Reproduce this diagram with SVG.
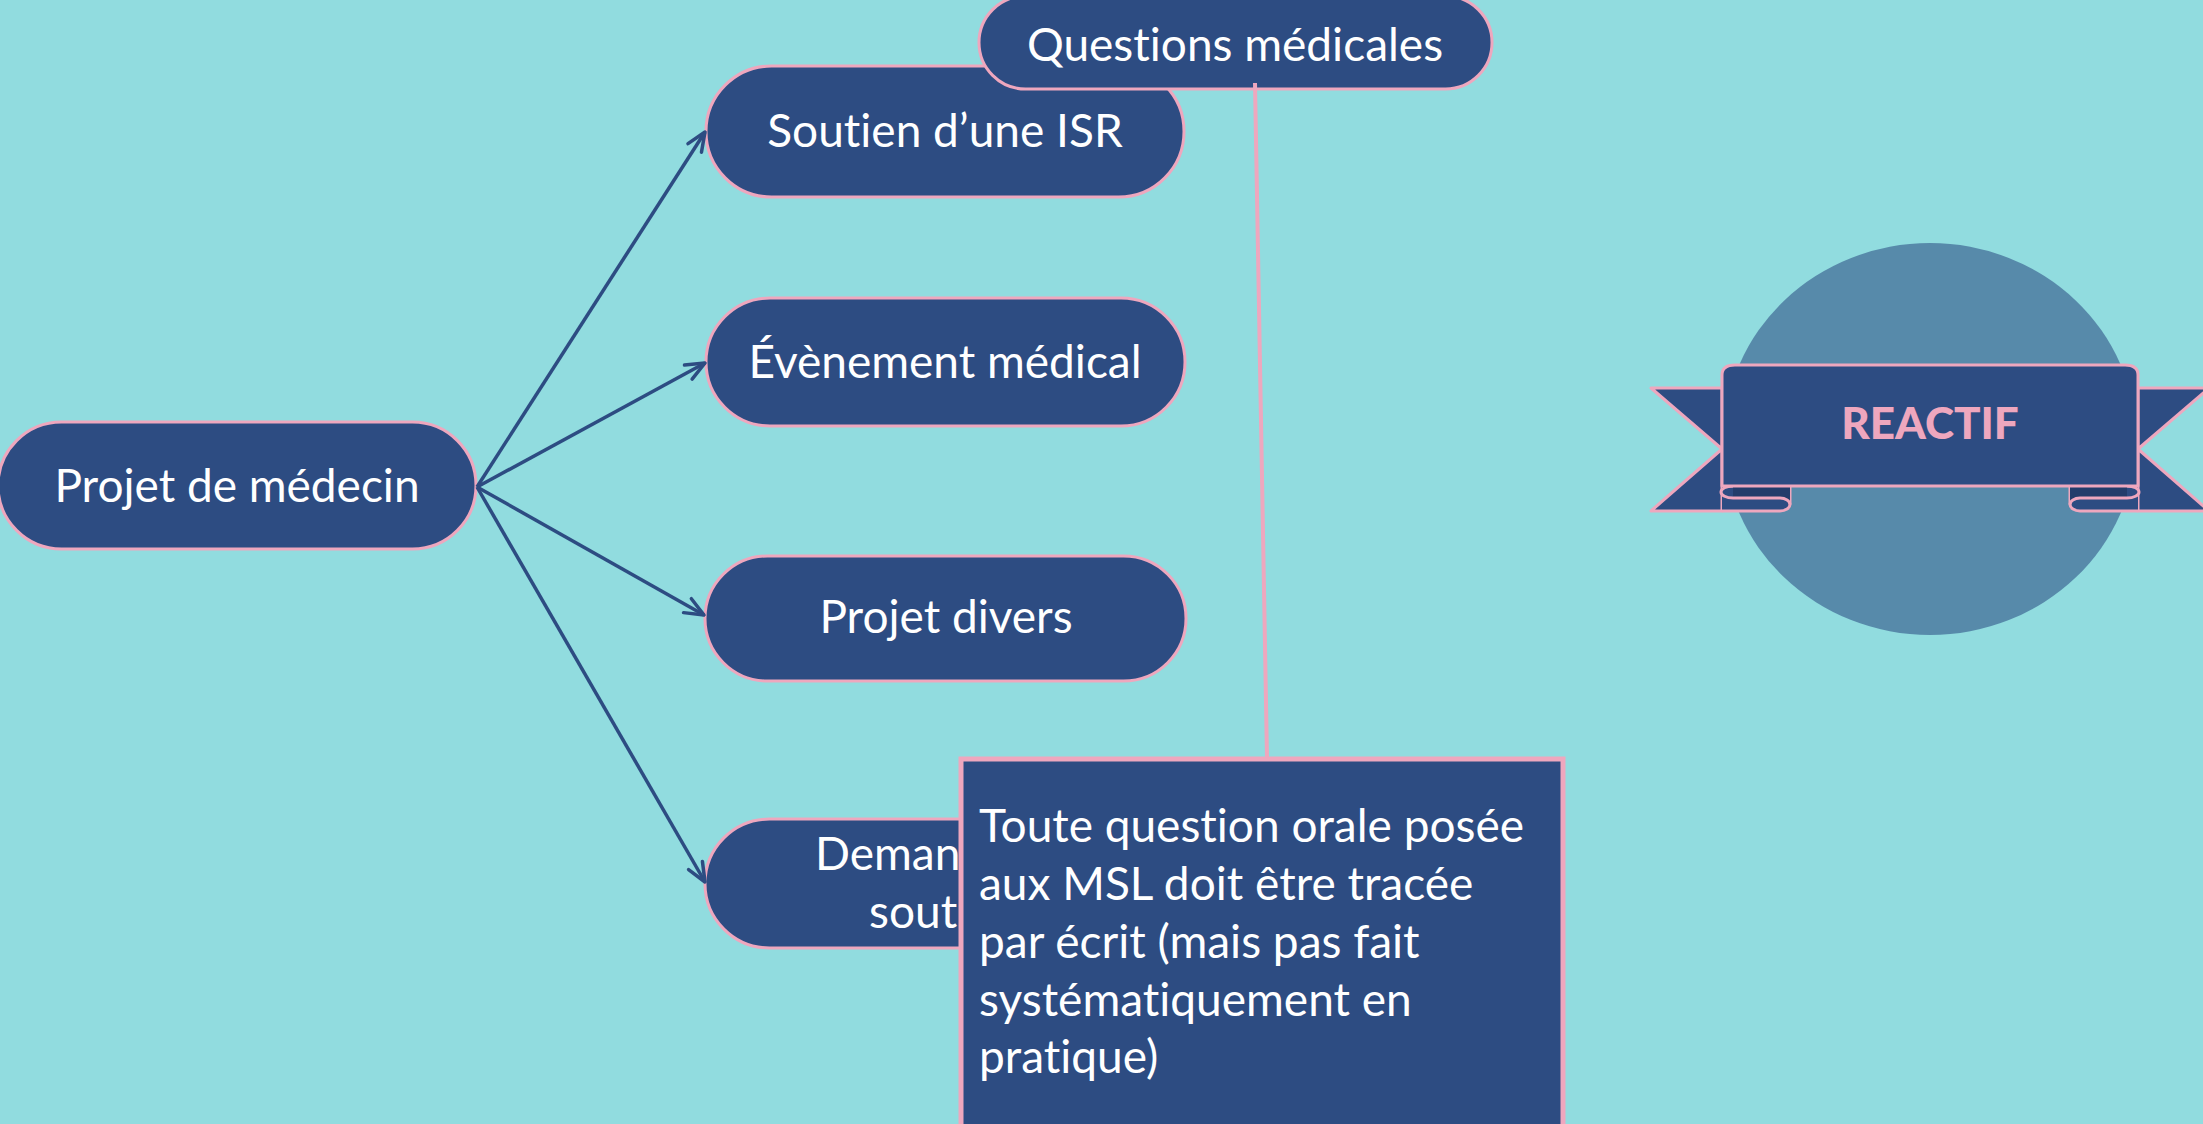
<svg xmlns="http://www.w3.org/2000/svg" width="2203" height="1124" viewBox="0 0 2203 1124">
<defs>
<style>
text{font-variant-ligatures:none;font-feature-settings:"liga" 0,"clig" 0}
.node{fill:#2d4c82;stroke:#eea7be;stroke-width:3}
.lbl{font-family:Lato,"Noto Sans","Liberation Sans",sans-serif;font-size:46px;fill:#ffffff;text-anchor:middle}
.arr{stroke:#2d4c82;stroke-width:3.5;fill:none;marker-end:url(#ah)}
.rib{fill:#2d4c82;stroke:#eea7be;stroke-width:3;stroke-linejoin:round}
.pk{fill:none;stroke:#eea7be;stroke-width:3}
.note{font-family:Lato,"Noto Sans","Liberation Sans",sans-serif;font-size:46px;fill:#ffffff}
</style>
<marker id="ah" markerUnits="userSpaceOnUse" viewBox="0 0 24 24" markerWidth="24" markerHeight="24" refX="22" refY="12" orient="auto">
<path d="M3,4 L22,12 L3,20" fill="none" stroke="#2d4c82" stroke-width="3.5" stroke-linecap="round" stroke-linejoin="round"/>
</marker>
</defs>
<rect x="0" y="0" width="2203" height="1124" fill="#91dcdf"/>

<g id="reactif">
<ellipse cx="1930" cy="439" rx="206" ry="196" fill="#578aaa"/>
<path class="rib" d="M1651,388 L1722,388 L1722,511 L1651,511 L1722,449 Z"/>
<path class="rib" d="M2209,388 L2138,388 L2138,511 L2209,511 L2138,449 Z"/>
<path d="M1722,486 L1790,486 L1790,504.5 A10,6.5 0 0 1 1780,511 L1722,511 Z" fill="#2d4c82"/>
<path class="pk" d="M1790,486 L1790,504.5 A10,6.5 0 0 1 1780,511 L1722,511"/>
<path d="M1733,486 L1790,486 L1790,504.5 A10,6.5 0 0 0 1780,498 L1733,498 Z" fill="#233d6b"/>
<path class="pk" d="M1733,486 A12,6 0 0 0 1733,498 L1780,498 A10,6.5 0 0 1 1790,504.5"/>
<path d="M2138,486 L2070,486 L2070,504.5 A10,6.5 0 0 0 2080,511 L2138,511 Z" fill="#2d4c82"/>
<path class="pk" d="M2070,486 L2070,504.5 A10,6.5 0 0 0 2080,511 L2138,511"/>
<path d="M2127,486 L2070,486 L2070,504.5 A10,6.5 0 0 1 2080,498 L2127,498 Z" fill="#233d6b"/>
<path class="pk" d="M2127,486 A12,6 0 0 1 2127,498 L2080,498 A10,6.5 0 0 0 2070,504.5"/>
<path class="rib" d="M1722,375 Q1722,365 1735,365 L2125,365 Q2138,365 2138,375 L2138,486 L1722,486 Z"/>
<text x="1930" y="439" font-family="Lato,'Liberation Sans',sans-serif" font-weight="900" font-size="44" fill="#eea7be" text-anchor="middle">REACTIF</text>
</g>

<g id="n-projet-medecin">
<rect class="node" x="-2" y="422" width="478" height="127" rx="63.5"/>
<text class="lbl" x="237" y="502">Projet de médecin</text>
</g>

<g id="n-soutien-isr">
<rect class="node" x="706" y="66" width="478" height="131" rx="65.5"/>
<text class="lbl" x="945" y="147">Soutien d’une ISR</text>
</g>

<g id="n-evenement">
<rect class="node" x="706" y="298" width="479" height="128" rx="64"/>
<text class="lbl" x="945" y="378">Évènement médical</text>
</g>

<g id="n-projet-divers">
<rect class="node" x="705" y="556" width="481" height="125" rx="62.5"/>
<text class="lbl" x="946" y="633">Projet divers</text>
</g>

<g id="n-demande">
<rect class="node" x="705" y="819" width="480" height="129" rx="64.5"/>
<text class="lbl" x="815" y="870" text-anchor="start" style="text-anchor:start">Deman</text>
<text class="lbl" x="869" y="928" text-anchor="start" style="text-anchor:start">sout</text>
</g>

<g id="n-questions">
<rect class="node" x="979" y="-4" width="513" height="93" rx="46.5"/>
<text class="lbl" x="1235" y="61">Questions médicales</text>
</g>

<g id="connectors">
<line class="arr" x1="477" y1="487" x2="705" y2="132"/>
<line class="arr" x1="477" y1="487" x2="705" y2="363"/>
<line class="arr" x1="477" y1="487" x2="704" y2="615"/>
<line class="arr" x1="477" y1="487" x2="705" y2="882"/>
<line x1="1255" y1="83" x2="1267" y2="758" stroke="#eea7be" stroke-width="4"/>
</g>

<g id="n-note">
<rect x="961" y="759" width="602" height="380" fill="#2d4c82" stroke="#eea7be" stroke-width="5"/>
<text class="note" x="979" y="842">Toute question orale posée</text>
<text class="note" x="979" y="900">aux MSL doit être tracée</text>
<text class="note" x="979" y="958">par écrit (mais pas fait</text>
<text class="note" x="979" y="1016">systématiquement en</text>
<text class="note" x="979" y="1073">pratique)</text>
</g>
</svg>
